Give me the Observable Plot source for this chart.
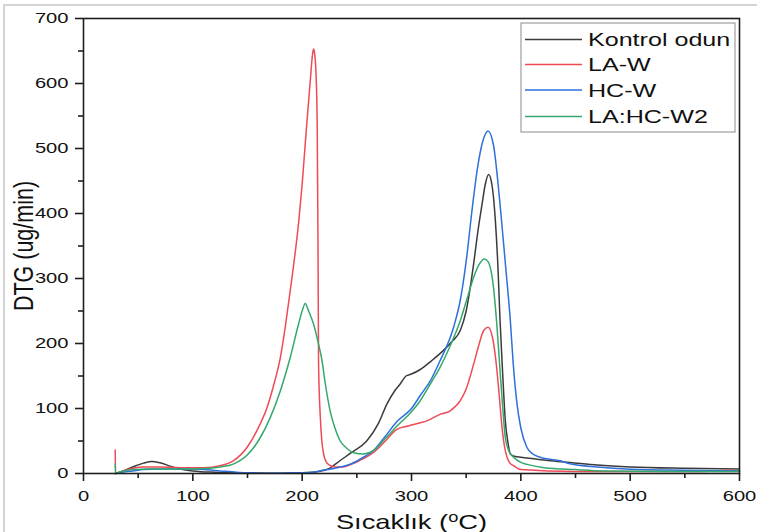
<!DOCTYPE html>
<html><head><meta charset="utf-8">
<script src="https://cdn.jsdelivr.net/npm/d3@7"></script>
<script src="https://cdn.jsdelivr.net/npm/@observablehq/plot@0.6"></script>
<style>
body{margin:0;background:#fff;}
#wrap{position:relative;width:757px;height:532px;overflow:hidden;background:#fff;}
#wrap > svg{position:absolute;left:0;top:0;}
#border{position:absolute;left:3px;top:4px;width:800px;height:600px;border-top:2px solid #d4d4d4;border-left:2px solid #d4d4d4;pointer-events:none;}
</style></head><body><div id="wrap"><div id="border"></div></div>
<script>
// ---- data ----
const xTicks = [0, 100, 200, 300, 400, 500, 600];
const yTicks = [0, 100, 200, 300, 400, 500, 600, 700];
const xMinor = [50, 150, 250, 350, 450, 550];
const yMinor = [50, 150, 250, 350, 450, 550, 650];
const seriesNames = ["Kontrol odun", "LA-W", "HC-W", "LA:HC-W2"];
const seriesColors = ["#3b3b3b", "#ef4a55", "#2f6fdc", "#34a86c"];

const kontrolX = [29,35,45,55,62.5,70,80,88.5,100,120,150,180,200,215,225,234.8,245,259,270,277.6,285,289.8,295,300,308,318,329,337,344.6,350,356.8,360.5,364.5,367.5,370.5,373.5,376.7,379,381,383.5,385.8,388,390.4,395,400,410,425,445,470,500,550,600];
const kontrolY = [0,3,10,16,18.5,16.5,11,7,4,2,1,0.5,1,3,8,20,32,50,78,107,128,138,150,153,160,173,189,203,220,250,322,370,414,445,460,445,389,320,235,150,81,50,30,26,25,23,20,17,13,10,8,7];
const laX = [29,29.3,35,45,55,70,90,110,125,137,149.5,158.6,167.8,173.8,180,184.5,188,192,196.7,200,203.7,207.4,209.5,210.4,211.5,213,213.8,214.5,215,216.5,218,219.6,222,225,230,237,245,255,265,275,286.7,297,308,314,326,335.4,344.6,350,356.8,362,366,370,374,378.2,380.5,382.8,385,387.4,390,393.4,400,450,500,550,580,590,600];
const laY = [36,0,3,8,10,10,9,9,12,19.5,40,66,101,135,178,225,268,318,385,445,527,604,645,653,645,600,527,350,168,90,50,30,18,13,10,10,14,22,32,48,68,73,78,81,91,96.5,112,130,168,200,220,225,210,158,115,71,42,25,16,12,6,3,3,3,4,5,3];
const hcX = [29,35,45,55,70,90,110,125,140,150,175,200,210,216,230,245,256,265,275,286.7,300,308,318,326,338.5,345,350.8,355,360,365,370,375,381,386,390.4,393,396.5,400,405.6,411,417.8,436,445,470,500,550,600];
const hcY = [0,2,4,6,7,7,6,4,2,1,0.5,1,2,4,8,15,25,35,55,80,100,120,145,173,225,270,337,400,466,510,527,505,414,320,235,170,107,70,40,30,25,19.5,15,10,6.7,5,4];
const lahcX = [29,29.3,35,45,60,80,100,115,125,137,149.5,161.6,170.8,180,189,196.7,200,202.8,205.9,210.4,215,218,221,225.6,230,234.8,240,247,256,265,275,286.7,300,308,318,326,335,344.6,351,356.8,362,366.6,370,375,378,381,383.5,385.8,389,393.4,400,405.6,421,450,476,550,600];
const lahcY = [15,0,3,6,7,7,7,8,10,14.5,28,55,86,127,178,230,250,261.5,250,230,199,175,140,96,70,50,40,32,30,35,52,73,95,112,140,163,195,235,270,301.5,322,330,326,286,230,158,100,55,35,25,17,14,9,6,4,3,3];

const seriesX = [kontrolX, laX, hcX, lahcX];
const seriesY = [kontrolY, laY, hcY, lahcY];

const tickStyle = {stroke: "#1e1e1e", strokeWidth: 1.6};

const lineMarks = seriesX.map((xs, i) =>
  Plot.line(xs, {x: xs, y: seriesY[i], stroke: seriesColors[i], strokeWidth: 1.5, curve: "monotone-x"})
);

const chart = Plot.plot({
  width: 757, height: 532,
  marginLeft: 83, marginRight: 18, marginTop: 18, marginBottom: 59,
  style: {fontFamily: "'Liberation Sans', Arial, sans-serif", fontSize: "15.5px", color: "#111"},
  x: {domain: [0, 600]},
  y: {domain: [0, 700]},
  marks: [
    ...lineMarks,
    Plot.frame({stroke: "#1e1e1e", strokeWidth: 1.6}),
    Plot.axisX(xMinor, {tickSize: 5, tickFormat: () => "", label: null, ...tickStyle}),
    Plot.axisX(xTicks, {tickSize: 8, tickPadding: 8, label: "Sıcaklık (oC)", labelAnchor: "center", labelArrow: "none", labelOffset: 55, ...tickStyle}),
    Plot.axisY(yMinor, {tickSize: 5, tickFormat: () => "", label: null, ...tickStyle}),
    Plot.axisY(yTicks, {tickSize: 8, tickPadding: 7, label: "DTG (ug/min)", labelAnchor: "center", labelArrow: "none", labelOffset: 70, ...tickStyle})
  ]
});

const wrap = document.getElementById("wrap");
wrap.insertBefore(chart, wrap.firstChild);
chart.style.background = "transparent";

const svg = d3.select(chart);
svg.selectAll('g[aria-label$="tick label"], g[aria-label$="axis label"]').attr("stroke", "none").attr("fill", "#111");
const K = 1.3;
function stretch(sel, k) {
  sel.each(function () {
    const L = this.getComputedTextLength();
    if (L > 0) {
      this.setAttribute("textLength", L * k);
      this.setAttribute("lengthAdjust", "spacingAndGlyphs");
    }
  });
}
stretch(svg.selectAll('g[aria-label="x-axis tick label"] text, g[aria-label="y-axis tick label"] text'), K);

const xl = svg.select('g[aria-label="x-axis label"] text');
xl.style("font-size", "21px").text(null);
xl.append("tspan").text("Sıcaklık (");
xl.append("tspan").attr("dy", -7).style("font-size", "14px").text("o");
xl.append("tspan").attr("dy", 7).text("C)");
stretch(xl, K);

const yl = svg.select('g[aria-label="y-axis label"] text');
yl.style("font-size", "21.5px");
const ylt = yl.attr("transform");
if (ylt && ylt.includes("rotate")) yl.attr("transform", ylt + " scale(1,1.3)");

const lg = svg.append("g").attr("font-family", "'Liberation Sans', Arial, sans-serif").attr("text-anchor", "start");
lg.append("rect").attr("x", 521).attr("y", 23).attr("width", 214).attr("height", 109)
  .attr("fill", "#fff").attr("stroke", "#8a8a8a").attr("stroke-width", 1);
const rowY = [39.5, 64.5, 90, 116.5];
seriesNames.forEach((name, i) => {
  lg.append("line").attr("x1", 525).attr("x2", 582).attr("y1", rowY[i]).attr("y2", rowY[i])
    .attr("stroke", seriesColors[i]).attr("stroke-width", 1.5);
  lg.append("text").attr("x", 588).attr("y", rowY[i] + 6.7).attr("font-size", 19)
    .attr("fill", "#111").text(name);
});
stretch(lg.selectAll("text"), 1.32);
</script>
</body></html>
